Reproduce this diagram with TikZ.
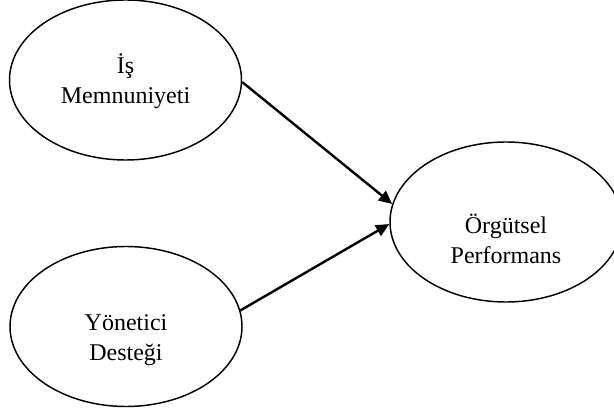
\documentclass[tikz,border=0pt]{standalone}
\usepackage{fontspec}
\setmainfont{Liberation Serif}
\usetikzlibrary{shapes.geometric,arrows.meta}

\begin{document}
\begin{tikzpicture}[x=0.75pt,y=0.75pt,
    latent/.style={draw, ellipse, line width=1.1pt, inner sep=0pt,
      minimum width=174pt, minimum height=120pt},
    caption/.style={align=center, inner sep=0pt,
      font=\fontsize{18}{22.5}\selectfont},
    link/.style={line width=1.8pt, -{Triangle[length=10pt,width=9pt]}}]
  \useasboundingbox (0,0) rectangle (614,411);
  \node[latent] (memnun) at (125.5,331) {};
  \node[latent] (destek) at (126,84.5) {};
  \node[latent] (perf) at (506,189) {};
  \node[caption] (memnuntext) at ([yshift=-1]memnun.center) {İş\\Memnuniyeti};
  \node[caption] (destektext) at ([yshift=-10]destek.center) {Yönetici\\Desteği};
  \node[caption] (perftext) at ([yshift=-13]perf.center) {Örgütsel\\Performans};
  \draw[link] (memnun.-1) -- (perf.171.5);
  \draw[link] (destek.8.2) -- (perf.181.5);
\end{tikzpicture}
\end{document}
